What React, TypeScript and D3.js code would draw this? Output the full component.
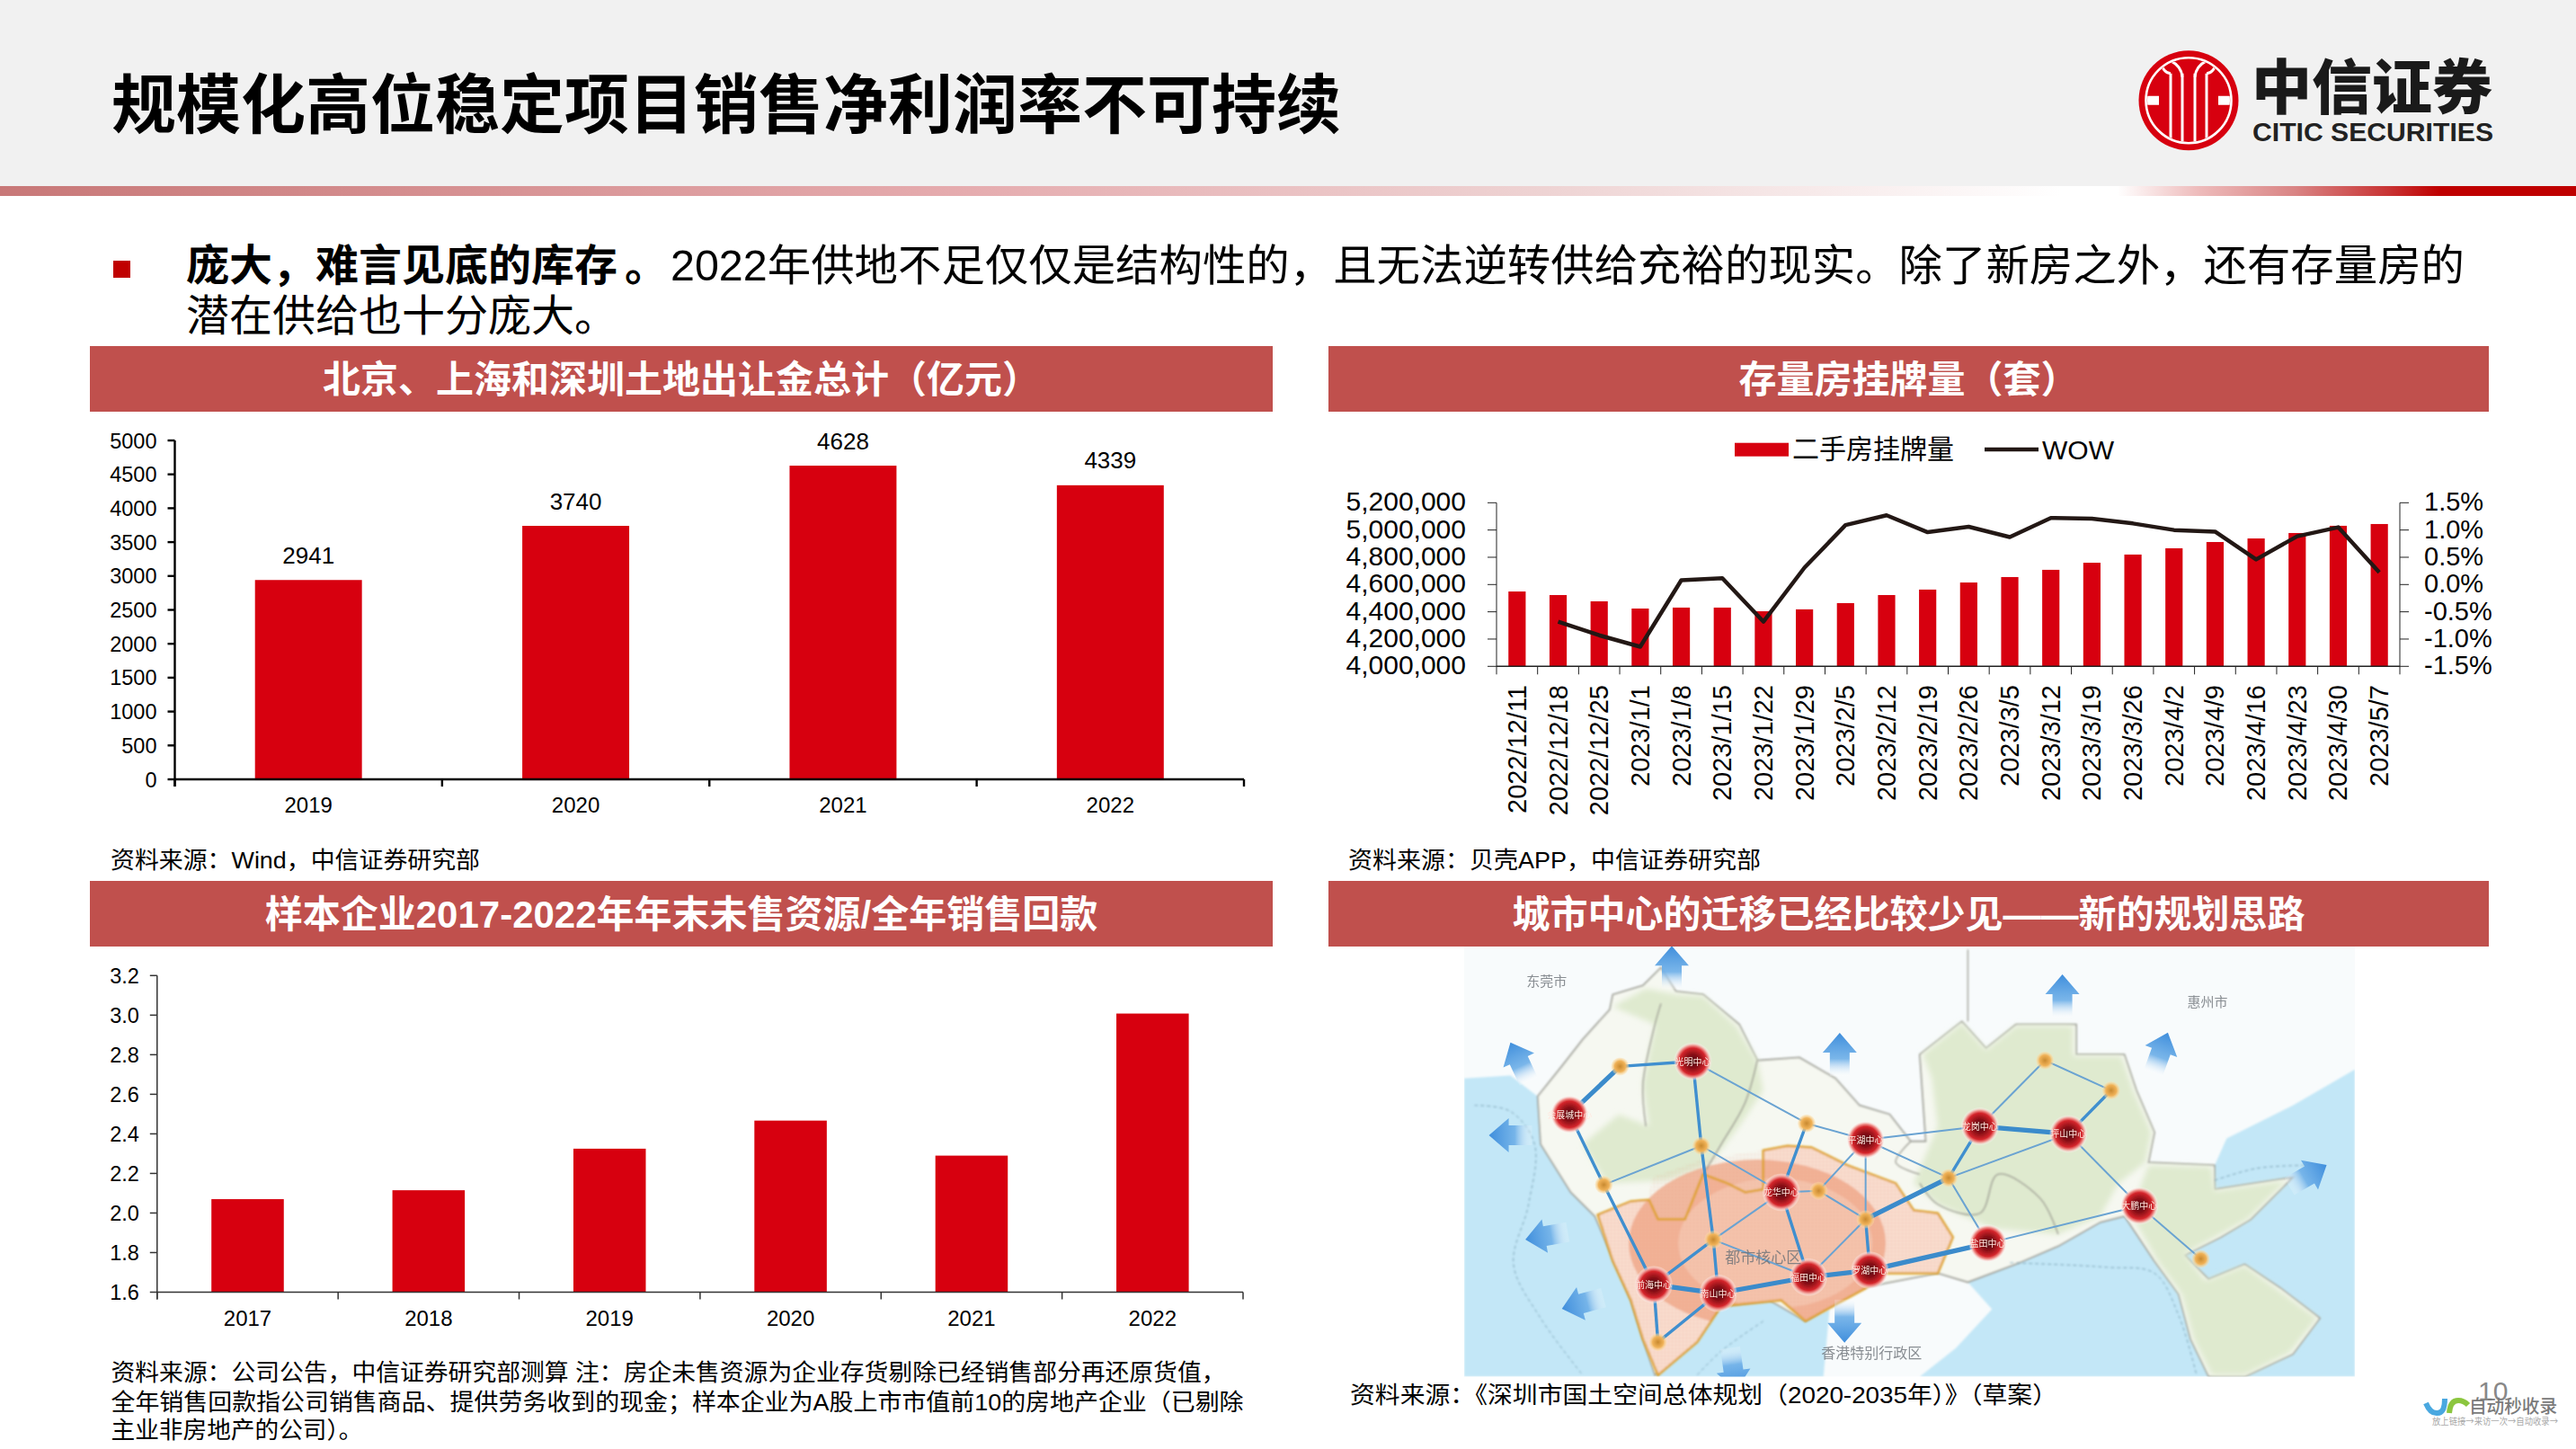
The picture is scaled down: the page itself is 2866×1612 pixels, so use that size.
import React from "react";
import * as d3 from "d3";

const SANS = '"Liberation Sans","Noto Sans CJK SC",sans-serif';
const CJK = '"Noto Sans CJK SC","Liberation Sans",sans-serif';
const RED = "#d7000f";
const PANEL = "#c0504d";

// ---------- chart data ----------
const landYears = ["2019", "2020", "2021", "2022"];
const landValues = [2941, 3740, 4628, 4339];
const landTicks = [0, 500, 1000, 1500, 2000, 2500, 3000, 3500, 4000, 4500, 5000];

const listingDates = ["2022/12/11","2022/12/18","2022/12/25","2023/1/1","2023/1/8","2023/1/15","2023/1/22","2023/1/29","2023/2/5","2023/2/12","2023/2/19","2023/2/26","2023/3/5","2023/3/12","2023/3/19","2023/3/26","2023/4/2","2023/4/9","2023/4/16","2023/4/23","2023/4/30","2023/5/7"];
const listingValues = [4549000,4523000,4477000,4424000,4431000,4431000,4404000,4418000,4464000,4523000,4563000,4615000,4655000,4708000,4760000,4820000,4866000,4912000,4938000,4978000,5031000,5044000];
const wowValues = [null,-0.68,-0.93,-1.14,0.08,0.115,-0.68,0.31,1.09,1.27,0.96,1.06,0.87,1.22,1.21,1.12,1.0,0.97,0.46,0.885,1.05,0.225];
const listingTicks = [4000000,4200000,4400000,4600000,4800000,5000000,5200000];
const wowTicks = [-1.5,-1,-0.5,0,0.5,1,1.5];

const ratioYears = ["2017","2018","2019","2020","2021","2022"];
const ratioValues = [2.07,2.115,2.325,2.467,2.29,3.008];
const ratioTicks = [1.6,1.8,2.0,2.2,2.4,2.6,2.8,3.0,3.2];

// ---------- map picture (traced in picture units) ----------
type P = [number, number];
const landOutline: P[] = [[165,540],[205,440],[240,350],[285,250],[290,200],[340,170],[370,110],[395,190],[440,200],[500,300],[530,420],[600,410],[660,480],[700,570],[750,600],[785,690],[810,690],[800,400],[870,290],[910,380],[960,300],[1060,300],[1060,400],[1140,400],[1160,520],[1190,660],[1180,760],[1290,770],[1290,850],[1420,810],[1350,950],[1300,1010],[1240,1070],[1280,1150],[1340,1100],[1400,1180],[1465,1280],[1420,1400],[1340,1475],[1280,1475],[1250,1350],[1230,1200],[1190,1090],[1140,940],[1100,960],[1030,1040],[960,1100],[880,1160],[830,1130],[700,1180],[610,1290],[550,1220],[470,1240],[420,1360],[360,1470],[340,1350],[320,1220],[260,940],[220,860],[170,700]];
const seaWest: P[] = [[43,480],[120,470],[165,540],[170,700],[220,860],[260,940],[320,1220],[340,1350],[360,1475],[43,1475]];
const seaSouth: P[] = [[360,1475],[420,1360],[470,1240],[550,1220],[610,1290],[650,1250],[640,1475]];
const seaBay: P[] = [[880,1160],[960,1100],[1030,1040],[1100,960],[1140,940],[1190,1090],[1230,1200],[1250,1350],[1280,1475],[800,1475],[860,1380],[920,1250]];
const seaEast: P[] = [[1340,1475],[1420,1400],[1465,1280],[1400,1180],[1340,1100],[1280,1150],[1240,1070],[1300,1010],[1350,950],[1420,810],[1290,850],[1290,770],[1310,680],[1420,570],[1523,450],[1523,1475]];
const greenWest: P[] = [[290,240],[345,180],[395,200],[440,205],[495,305],[530,420],[540,520],[500,640],[450,770],[380,820],[280,830],[240,700],[300,600],[350,640],[340,500],[360,300]];
const greenEast: P[] = [[805,400],[870,295],[910,385],[960,305],[1055,305],[1055,405],[1135,405],[1155,520],[1185,660],[1175,760],[1130,830],[1100,940],[1030,1000],[920,980],[830,900],[790,830],[830,640],[820,480]];
const greenPeninsula: P[] = [[1180,770],[1285,775],[1290,855],[1410,820],[1345,950],[1240,1065],[1275,1155],[1340,1105],[1395,1185],[1460,1280],[1415,1395],[1340,1470],[1285,1470],[1255,1350],[1235,1200],[1195,1090],[1150,930]];
const coreOutline: P[] = [[265,935],[320,890],[350,885],[365,950],[410,950],[440,800],[480,830],[510,860],[540,850],[540,720],[580,705],[620,710],[680,770],[760,830],[790,920],[830,930],[855,1010],[830,1130],[740,1130],[710,1180],[610,1290],[570,1220],[470,1240],[430,1360],[365,1470],[340,1350],[320,1220],[290,1090]];
const glowOutline: P[] = [[265,935],[320,890],[350,885],[355,810],[440,750],[540,720],[580,705],[620,710],[680,770],[760,830],[790,920],[830,930],[855,1010],[830,1130],[740,1130],[710,1180],[610,1290],[570,1220],[470,1240],[430,1360],[365,1470],[340,1350],[320,1220],[290,1090]];
const innerBorders: P[][] = [
  [[345,640],[340,500],[360,300],[370,230]],
  [[530,420],[510,560],[470,700],[440,800]],
  [[800,830],[830,900],[900,930],[930,800],[1000,880],[1030,1000]],
  [[785,690],[760,760],[800,800]],
  [[880,50],[880,290]],
];
const seaBorders: P[][] = [
  [[60,570],[120,590],[160,700],[150,900],[125,1100],[170,1280],[240,1470]],
  [[950,1095],[1110,1110],[1190,1130],[1230,1270],[1260,1470]],
  [[1290,820],[1360,780],[1440,770]],
  [[540,1290],[470,1390],[430,1470]],
];
const hubs = [
  { n: "光明中心", p: [423,423] as P }, { n: "会展城中心", p: [218,600] as P }, { n: "平湖中心", p: [710,685] as P },
  { n: "龙岗中心", p: [900,640] as P }, { n: "坪山中心", p: [1047,665] as P }, { n: "龙华中心", p: [570,860] as P },
  { n: "前海中心", p: [358,1168] as P }, { n: "南山中心", p: [465,1197] as P }, { n: "福田中心", p: [615,1143] as P },
  { n: "罗湖中心", p: [717,1120] as P }, { n: "盐田中心", p: [913,1030] as P }, { n: "大鹏中心", p: [1165,905] as P },
];
const subHubs: P[] = [[302,440],[612,630],[437,705],[275,835],[632,855],[848,812],[710,950],[457,1018],[1008,420],[1118,520],[1267,1082],[365,1360]];
const thinLinks: [P, P][] = [[[423,423],[612,630]],[[612,630],[710,685]],[[275,835],[437,705]],[[437,705],[570,860]],[[457,1018],[570,860]],[[457,1018],[615,1143]],[[570,860],[632,855]],[[632,855],[710,685]],[[632,855],[710,950]],[[710,685],[710,950]],[[710,950],[615,1143]],[[710,685],[848,812]],[[710,685],[900,640]],[[848,812],[1047,665]],[[900,640],[1008,420]],[[1008,420],[1118,520]],[[1047,665],[1165,905]],[[848,812],[913,1030]],[[913,1030],[1165,905]],[[1165,905],[1267,1082]]];
const midLinks: [P, P][] = [[[302,440],[423,423]],[[423,423],[437,705]],[[612,630],[570,860]],[[218,600],[275,835]],[[275,835],[358,1168]],[[437,705],[457,1018]],[[457,1018],[465,1197]],[[457,1018],[358,1168]],[[570,860],[615,1143]],[[710,950],[717,1120]],[[848,812],[900,640]],[[1118,520],[1047,665]],[[358,1168],[365,1360]],[[465,1197],[365,1360]]];
const thickLinks: [P, P][] = [[[218,600],[302,440]],[[710,950],[848,812]],[[900,640],[1047,665]],[[913,1030],[717,1120]],[[717,1120],[615,1143]],[[615,1143],[465,1197]],[[465,1197],[358,1168]]];
const arrows: { p: P; a: number }[] = [
  { p: [388,110], a: 0 }, { p: [667,400], a: 0 }, { p: [1037,205], a: 0 }, { p: [135,425], a: -25 }, { p: [1200,395], a: 20 },
  { p: [120,670], a: -90 }, { p: [180,1005], a: -100 }, { p: [240,1230], a: -105 }, { p: [1445,805], a: 60 }, { p: [675,1290], a: 180 }, { p: [490,1450], a: 172 },
];
const mapNames: { t: string; p: P; s: number }[] = [
  { t: "东莞市", p: [180,158], s: 15 }, { t: "惠州市", p: [1278,226], s: 15 }, { t: "香港特别行政区", p: [720,1400], s: 16 }, { t: "都市核心区", p: [540,1080], s: 17 },
];

const mapX = d3.scaleLinear().domain([43, 1523]).range([1629, 2620]);
const mapY = d3.scaleLinear().domain([40, 1475]).range([1053, 1531.5]);
const mapPts = (a: P[]) => a.map(([u, v]) => [mapX(u), mapY(v)] as [number, number]);
const mapPoly = (a: P[]) => d3.line().curve(d3.curveLinearClosed)(mapPts(a)) as string;

// ---------- small pieces ----------
function Panel({ x, y, w, h, t }: { x: number; y: number; w: number; h: number; t: string }) {
  return (
    <g>
      <rect x={x} y={y} width={w} height={h} fill={PANEL} />
      <text x={x + w / 2} y={y + h / 2 + 15} textAnchor="middle" fontFamily={SANS} fontWeight={700} fontSize={42} fill="#fff">{t}</text>
    </g>
  );
}

function SimpleBars(props: { cats: string[]; vals: number[]; ticks: number[]; x0: number; x1: number; y0: number; y1: number; dom: [number, number]; fmt: (v: number) => string; axisW: number; axisC: string; labels?: boolean }) {
  const { cats, vals, ticks, x0, x1, y0, y1, dom, fmt, axisW, axisC, labels } = props;
  const x = d3.scaleBand<string>().domain(cats).range([x0, x1]).paddingInner(0.6).paddingOuter(0.3);
  const y = d3.scaleLinear().domain(dom).range([y0, y1]);
  const step = (x1 - x0) / cats.length;
  return (
    <g>
      {cats.map((c, i) => (
        <rect key={c} x={x(c)} y={y(vals[i])} width={x.bandwidth()} height={y0 - y(vals[i])} fill={RED} />
      ))}
      <line x1={x0} x2={x0} y1={y1} y2={y0 + 8} stroke={axisC} strokeWidth={axisW} />
      <line x1={x0} x2={x1} y1={y0} y2={y0} stroke={axisC} strokeWidth={axisW} />
      {ticks.map((t) => (
        <g key={t}>
          <line x1={x0 - 8} x2={x0} y1={y(t)} y2={y(t)} stroke={axisC} strokeWidth={axisW} />
          <text x={x0 - 20} y={y(t) + 8.5} textAnchor="end" fontFamily={SANS} fontSize={23.5} fill="#000">{fmt(t)}</text>
        </g>
      ))}
      {d3.range(cats.length + 1).map((i) => (
        <line key={i} x1={x0 + i * step} x2={x0 + i * step} y1={y0} y2={y0 + 8} stroke={axisC} strokeWidth={axisW} />
      ))}
      {cats.map((c, i) => (
        <g key={c}>
          <text x={(x(c) as number) + x.bandwidth() / 2} y={y0 + 37} textAnchor="middle" fontFamily={SANS} fontSize={24} fill="#000">{c}</text>
          {labels && <text x={(x(c) as number) + x.bandwidth() / 2} y={y(vals[i]) - 18.5} textAnchor="middle" fontFamily={SANS} fontSize={26} fill="#000">{vals[i]}</text>}
        </g>
      ))}
    </g>
  );
}

function ListingChart() {
  const x0 = 1665, x1 = 2670, y0 = 741.3, y1 = 559.3;
  const x = d3.scaleBand<string>().domain(listingDates).range([x0, x1]).paddingInner(0.58).paddingOuter(0.29);
  const y = d3.scaleLinear().domain([4000000, 5200000]).range([y0, y1]);
  const yr = d3.scaleLinear().domain([-1.5, 1.5]).range([y0, y1]);
  const cx = (c: string) => (x(c) as number) + x.bandwidth() / 2;
  const line = d3.line<number | null>().defined((d) => d !== null).x((_, i) => cx(listingDates[i])).y((d) => yr(d as number));
  const step = (x1 - x0) / listingDates.length;
  const axis = "#222";
  return (
    <g>
      {listingDates.map((c, i) => (
        <rect key={c} x={x(c)} y={y(listingValues[i])} width={x.bandwidth()} height={y0 - y(listingValues[i])} fill={RED} />
      ))}
      <line x1={x0} x2={x1} y1={y0} y2={y0} stroke={axis} strokeWidth={1.5} />
      <line x1={x0} x2={x0} y1={y1} y2={y0} stroke={axis} strokeWidth={1} />
      <line x1={x1} x2={x1} y1={y1} y2={y0} stroke={axis} strokeWidth={1} />
      {d3.range(listingDates.length + 1).map((i) => (
        <line key={i} x1={x0 + i * step} x2={x0 + i * step} y1={y0} y2={y0 + 9} stroke={axis} strokeWidth={1} />
      ))}
      {listingTicks.map((t) => (
        <g key={t}>
          <line x1={x0 - 10} x2={x0} y1={y(t)} y2={y(t)} stroke={axis} strokeWidth={1} />
          <text x={1631} y={y(t) + 9} textAnchor="end" fontFamily={SANS} fontSize={30} fill="#000">{d3.format(",")(t)}</text>
        </g>
      ))}
      {wowTicks.map((t) => (
        <g key={t}>
          <line x1={x1} x2={x1 + 10} y1={yr(t)} y2={yr(t)} stroke={axis} strokeWidth={1} />
          <text x={2697} y={yr(t) + 9} fontFamily={SANS} fontSize={29} fill="#000">{t.toFixed(1) + "%"}</text>
        </g>
      ))}
      {listingDates.map((c) => (
        <text key={c} transform={`translate(${cx(c) + 10},762) rotate(-90)`} textAnchor="end" fontFamily={SANS} fontSize={29} fill="#000">{c}</text>
      ))}
      <path d={line(wowValues) as string} fill="none" stroke="#231815" strokeWidth={4.5} strokeLinejoin="round" />
      <rect x={1930} y={492.7} width={60} height={15} fill={RED} />
      <text x={1994} y={510} fontFamily={SANS} fontSize={30} fill="#000">二手房挂牌量</text>
      <line x1={2208} x2={2268} y1={500} y2={500} stroke="#231815" strokeWidth={4.5} />
      <text x={2272} y={510.5} fontFamily={SANS} fontSize={30} fill="#000">WOW</text>
    </g>
  );
}

function MapPicture() {
  const open = d3.line().curve(d3.curveCatmullRom);
  const links = (list: [P, P][], w: number, c: string) =>
    list.map(([a, b], i) => <line key={i} x1={mapX(a[0])} y1={mapY(a[1])} x2={mapX(b[0])} y2={mapY(b[1])} stroke={c} strokeWidth={w} />);
  return (
    <g clipPath="url(#mapClip)">
      <rect x={1629} y={1053} width={991} height={478.5} fill="#f8fbfc" />
      <g filter="url(#soft)">
        {[seaWest, seaSouth, seaBay, seaEast].map((s, i) => <path key={i} d={mapPoly(s)} fill="#c3e7f7" />)}
        <path d={mapPoly(landOutline)} fill="#f6f8f1" stroke="#a0a198" strokeWidth={1.8} />
      </g>
      <g filter="url(#softer)">
        {[greenWest, greenEast, greenPeninsula].map((s, i) => <path key={i} d={mapPoly(s)} fill="#dfeacf" />)}
      </g>
      <g filter="url(#soft)">
        <path d={mapPoly(coreOutline)} fill="#f9dfd1" />
        <g clipPath="url(#glowClip)">
          <ellipse cx={mapX(530)} cy={mapY(1030)} rx={143} ry={93} fill="#efa484" opacity={0.75} />
          <ellipse cx={mapX(560)} cy={mapY(1030)} rx={108} ry={72} fill="#f7cdb8" opacity={0.7} />
          <rect x={1629} y={1053} width={991} height={478.5} fill="url(#grid)" />
        </g>
        <path d={mapPoly(coreOutline)} fill="none" stroke="#dfa128" strokeWidth={2.5} />
        {innerBorders.map((b, i) => <path key={i} d={open(mapPts(b)) as string} fill="none" stroke="#9a9a90" strokeWidth={1.3} />)}
        {seaBorders.map((b, i) => <path key={i} d={open(mapPts(b)) as string} fill="none" stroke="#7fa6b8" strokeWidth={1} strokeDasharray="4 3" />)}
      </g>
      {arrows.map(({ p, a }, i) => (
        <g key={i} transform={`translate(${mapX(p[0])},${mapY(p[1])}) rotate(${a})`}>
          <path d="M0,-24 L19,-2 L11,-2 L11,24 L-11,24 L-11,-2 L-19,-2 Z" fill="url(#arrowFade)" />
        </g>
      ))}
      <g filter="url(#softLite)">
        {links(thinLinks, 2, "#6aa3d2")}
        {links(midLinks, 3.4, "#3f8fcf")}
        {links(thickLinks, 5.2, "#3a8bcb")}
        {subHubs.map((p, i) => <circle key={i} cx={mapX(p[0])} cy={mapY(p[1])} r={10} fill="url(#subHub)" />)}
        {hubs.map(({ n, p }) => (
          <g key={n}>
            <circle cx={mapX(p[0])} cy={mapY(p[1])} r={21} fill="url(#hub)" />
            <text x={mapX(p[0])} y={mapY(p[1]) + 4} textAnchor="middle" fontFamily={CJK} fontSize={10} fill="#ffe9e0">{n}</text>
          </g>
        ))}
      </g>
      {mapNames.map(({ t, p, s }) => (
        <text key={t} x={mapX(p[0])} y={mapY(p[1]) + 5} textAnchor="middle" fontFamily={CJK} fontSize={s} fill="#6d7278" opacity={0.8}>{t}</text>
      ))}
    </g>
  );
}

function Logo() {
  const cx = 2435, cy = 111.7;
  const pillars = [-20, -7, 7, 20];
  return (
    <g>
      <circle cx={cx} cy={cy} r={55.5} fill="#d7000f" />
      <circle cx={cx} cy={cy} r={47.5} fill="none" stroke="#fff" strokeWidth={2.6} />
      <g clipPath="url(#logoClip)" stroke="#fff" strokeWidth={3} fill="none">
        {pillars.map((o) => <line key={o} x1={cx + o} x2={cx + o} y1={cy - 30} y2={cy + 50} />)}
        <path d={`M${cx - 32},${cy - 44} Q${cx - 28},${cy - 30} ${cx - 20},${cy - 30}`} />
        <path d={`M${cx + 32},${cy - 44} Q${cx + 28},${cy - 30} ${cx + 20},${cy - 30}`} />
        <path d={`M${cx - 20},${cy - 44} Q${cx - 8},${cy - 38} ${cx - 7},${cy - 26}`} />
        <path d={`M${cx + 20},${cy - 44} Q${cx + 8},${cy - 38} ${cx + 7},${cy - 26}`} />
        <path d={`M${cx - 47},${cy} L${cx - 33},${cy} M${cx + 47},${cy} L${cx + 33},${cy}`} strokeWidth={10} />
      </g>
      <text x={2505} y={121} fontFamily={CJK} fontWeight={900} fontSize={66} fill="#1a1a1a" textLength={268} lengthAdjust="spacingAndGlyphs">中信证券</text>
      <text x={2506} y={157} fontFamily={SANS} fontWeight={700} fontSize={29} fill="#222" textLength={268} lengthAdjust="spacingAndGlyphs">CITIC SECURITIES</text>
    </g>
  );
}

function Watermark() {
  return (
    <g>
      <text x={2757} y={1558} fontFamily={SANS} fontSize={30} fill="#888">10</text>
      <path d="M2699,1561 Q2704,1573 2712,1572 Q2720,1572 2720,1556" fill="none" stroke="#4aa8e0" strokeWidth={6} />
      <path d="M2725,1572 Q2726,1558 2735,1558 Q2741,1558 2746,1563" fill="none" stroke="#8cc63f" strokeWidth={6} />
      <text x={2747} y={1572} fontFamily={CJK} fontSize={20} fontWeight={500} fill="#7a7a7a" textLength={98} lengthAdjust="spacingAndGlyphs">自动秒收录</text>
      <text x={2706} y={1585} fontFamily={CJK} fontSize={10.5} fill="#a8a8a8" textLength={140} lengthAdjust="spacingAndGlyphs">放上链接→来访一次→自动收录→</text>
    </g>
  );
}

function Note({ x, y, t, w }: { x: number; y: number; t: string; w: number }) {
  return <text x={x} y={y} fontFamily={SANS} fontSize={26} fill="#000" textLength={w} lengthAdjust="spacingAndGlyphs">{t}</text>;
}

export default function App() {
  return (
    <svg width={2866} height={1612} viewBox="0 0 2866 1612" style={{ position: "absolute", left: 0, top: 0, display: "block", background: "#fff" }}>
      <defs>
        <linearGradient id="rule" x1="0" x2="1" y1="0" y2="0">
          <stop offset="0" stopColor="#c87878" />
          <stop offset="0.37" stopColor="#e5abae" />
          <stop offset="0.6" stopColor="#eed3d3" />
          <stop offset="0.8" stopColor="#ffffff" />
          <stop offset="0.822" stopColor="#ffffff" />
          <stop offset="0.853" stopColor="#eebcbc" />
          <stop offset="0.891" stopColor="#d98484" />
          <stop offset="0.928" stopColor="#c83232" />
          <stop offset="0.947" stopColor="#bf0000" />
          <stop offset="1" stopColor="#bf0000" />
        </linearGradient>
        <linearGradient id="arrowFade" x1="0" x2="0" y1="0" y2="1">
          <stop offset="0" stopColor="#3f8edc" />
          <stop offset="0.6" stopColor="#6fb0e8" stopOpacity={0.92} />
          <stop offset="1" stopColor="#ffffff" stopOpacity={0.15} />
        </linearGradient>
        <radialGradient id="hub">
          <stop offset="0" stopColor="#4a0a0e" />
          <stop offset="0.4" stopColor="#8f1118" />
          <stop offset="0.7" stopColor="#d4252b" />
          <stop offset="0.84" stopColor="#f0948e" />
          <stop offset="1" stopColor="#ffffff" stopOpacity={0.2} />
        </radialGradient>
        <radialGradient id="subHub">
          <stop offset="0" stopColor="#c98a30" />
          <stop offset="0.6" stopColor="#f0b258" />
          <stop offset="1" stopColor="#ffe0a8" stopOpacity={0.3} />
        </radialGradient>
        <pattern id="grid" width={4} height={4} patternUnits="userSpaceOnUse">
          <path d="M4,0 L0,0 L0,4" fill="none" stroke="#e08a68" strokeWidth={0.5} opacity={0.55} />
        </pattern>
        <filter id="soft"><feGaussianBlur stdDeviation="0.8" /></filter>
        <filter id="softer"><feGaussianBlur stdDeviation="3" /></filter>
        <filter id="softLite"><feGaussianBlur stdDeviation="0.5" /></filter>
        <clipPath id="mapClip"><rect x={1629} y={1053} width={991} height={478.5} /></clipPath>
        <clipPath id="logoClip"><circle cx={2435} cy={111.7} r={46} /></clipPath>
        <clipPath id="glowClip"><path d={mapPoly(glowOutline)} /></clipPath>
      </defs>

      <rect x={0} y={0} width={2866} height={207} fill="#f1f1f1" />
      <rect x={0} y={207} width={2866} height={11} fill="url(#rule)" />
      <text x={124} y={142} fontFamily={CJK} fontWeight={700} fontSize={72} fill="#000" textLength={1368} lengthAdjust="spacingAndGlyphs">规模化高位稳定项目销售净利润率不可持续</text>
      <Logo />

      <rect x={126} y={290} width={19} height={19} fill="#c00000" />
      <text x={207} y={312} fontFamily={SANS} fontWeight={700} fontSize={48} fill="#000">庞大，难言见底的库存<tspan dx={8}>。</tspan></text>
      <text x={746} y={312} fontFamily={SANS} fontSize={48} fill="#000" textLength={1996} lengthAdjust="spacingAndGlyphs">2022年供地不足仅仅是结构性的，且无法逆转供给充裕的现实。除了新房之外，还有存量房的</text>
      <text x={207} y={368} fontFamily={SANS} fontSize={48} fill="#000">潜在供给也十分庞大。</text>

      <Panel x={100} y={385} w={1316} h={73} t="北京、上海和深圳土地出让金总计（亿元）" />
      <Panel x={1478} y={385} w={1291} h={73} t="存量房挂牌量（套）" />
      <Panel x={100} y={980} w={1316} h={73} t="样本企业2017-2022年年末未售资源/全年销售回款" />
      <Panel x={1478} y={980} w={1291} h={73} t="城市中心的迁移已经比较少见——新的规划思路" />

      <SimpleBars cats={landYears} vals={landValues} ticks={landTicks} x0={194.5} x1={1384} y0={867} y1={490} dom={[0, 5000]} fmt={(v) => String(v)} axisW={2.4} axisC="#000" labels />
      <ListingChart />
      <SimpleBars cats={ratioYears} vals={ratioValues} ticks={ratioTicks} x0={174.8} x1={1383} y0={1437.5} y1={1085.3} dom={[1.6, 3.2]} fmt={(v) => v.toFixed(1)} axisW={1.5} axisC="#333" />
      <MapPicture />

      <Note x={123} y={966} t="资料来源：Wind，中信证券研究部" w={411} />
      <Note x={1500} y={966} t="资料来源：贝壳APP，中信证券研究部" w={459} />
      <Note x={123.5} y={1536} t="资料来源：公司公告，中信证券研究部测算  注：房企未售资源为企业存货剔除已经销售部分再还原货值，" w={1240} />
      <Note x={123.5} y={1569} t="全年销售回款指公司销售商品、提供劳务收到的现金；样本企业为A股上市市值前10的房地产企业（已剔除" w={1260} />
      <Note x={123.5} y={1600} t="主业非房地产的公司）。" w={280} />
      <Note x={1502} y={1561} t="资料来源：《深圳市国土空间总体规划（2020-2035年）》（草案）" w={787} />
      <Watermark />
    </svg>
  );
}
